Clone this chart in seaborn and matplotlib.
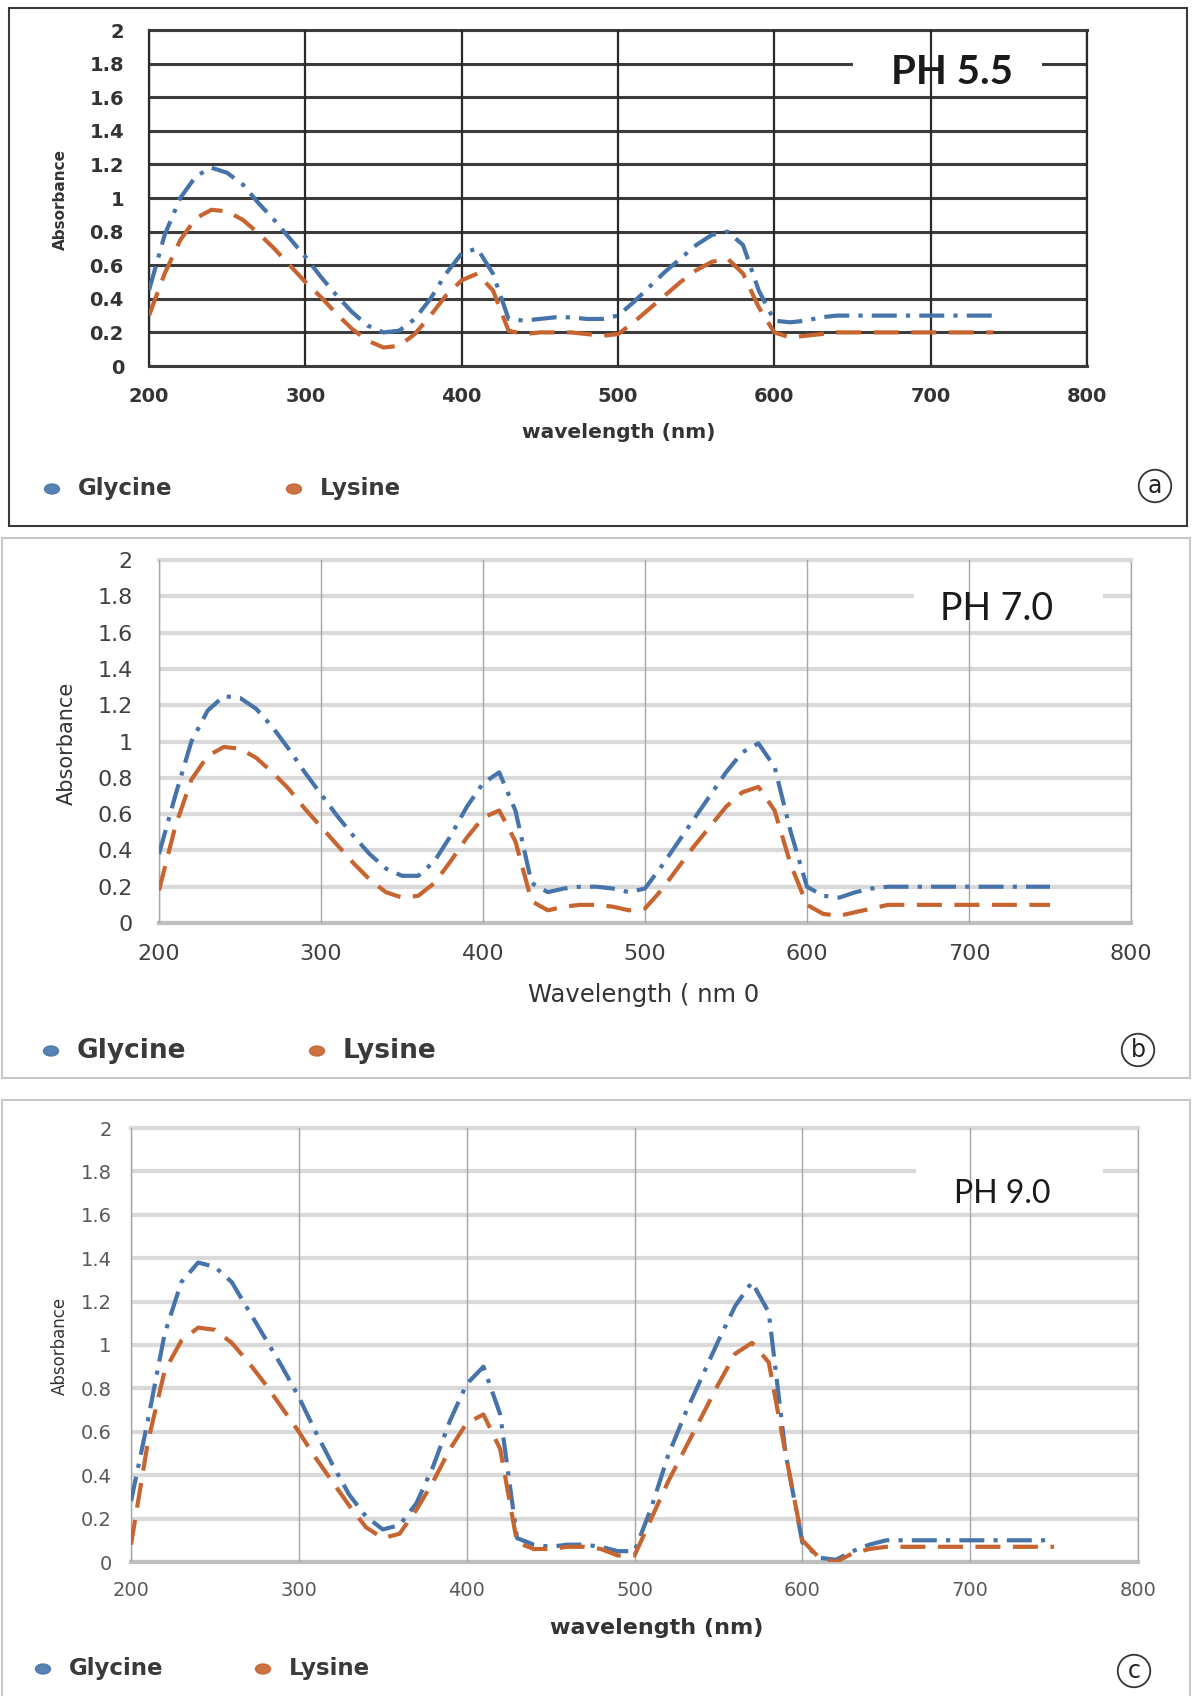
import numpy as np
import pandas as pd
import matplotlib
matplotlib.use('Agg')
import matplotlib.pyplot as plt
from matplotlib.patches import Rectangle, Ellipse
import seaborn as sns

sns.set_style('white')
plt.rcParams['font.family'] = ['DejaVu Sans']

# ---- data (absorbance vs wavelength, nm) ----
wl_a = list(range(200, 741, 10))
glycine_a = [0.45, 0.78, 1.00, 1.13, 1.18, 1.15, 1.08, 0.97, 0.87, 0.76,
             0.65, 0.53, 0.42, 0.32, 0.24, 0.20, 0.21, 0.28, 0.40, 0.55,
             0.67, 0.70, 0.55, 0.28, 0.27, 0.28, 0.29, 0.29, 0.28, 0.28,
             0.30, 0.38, 0.47, 0.56, 0.64, 0.72, 0.78, 0.80, 0.72, 0.45,
             0.27, 0.26, 0.27, 0.29, 0.30, 0.30, 0.30, 0.30, 0.30, 0.30,
             0.30, 0.30, 0.30, 0.30, 0.30]
lysine_a = [0.30, 0.55, 0.75, 0.88, 0.93, 0.92, 0.87, 0.79, 0.70, 0.60,
            0.50, 0.41, 0.31, 0.22, 0.15, 0.11, 0.12, 0.19, 0.30, 0.42,
            0.51, 0.55, 0.45, 0.21, 0.19, 0.20, 0.20, 0.20, 0.19, 0.18,
            0.19, 0.26, 0.34, 0.42, 0.50, 0.57, 0.62, 0.64, 0.55, 0.35,
            0.20, 0.17, 0.18, 0.19, 0.20, 0.20, 0.20, 0.20, 0.20, 0.20,
            0.20, 0.20, 0.20, 0.20, 0.20]

wl_b = list(range(200, 751, 10))
glycine_b = [0.38, 0.70, 1.00, 1.17, 1.25, 1.24, 1.18, 1.08, 0.96, 0.83,
             0.71, 0.59, 0.48, 0.38, 0.30, 0.26, 0.26, 0.34, 0.48, 0.64,
             0.77, 0.83, 0.62, 0.22, 0.17, 0.19, 0.20, 0.20, 0.19, 0.17,
             0.19, 0.31, 0.44, 0.57, 0.70, 0.83, 0.94, 0.99, 0.86, 0.50,
             0.20, 0.15, 0.14, 0.17, 0.19, 0.20, 0.20, 0.20, 0.20, 0.20,
             0.20, 0.20, 0.20, 0.20, 0.20, 0.20]
lysine_b = [0.18, 0.53, 0.79, 0.92, 0.97, 0.96, 0.91, 0.83, 0.74, 0.63,
            0.53, 0.43, 0.33, 0.24, 0.17, 0.14, 0.15, 0.22, 0.34, 0.47,
            0.58, 0.62, 0.45, 0.12, 0.07, 0.09, 0.10, 0.10, 0.09, 0.07,
            0.08, 0.18, 0.30, 0.42, 0.53, 0.64, 0.72, 0.75, 0.62, 0.32,
            0.10, 0.05, 0.04, 0.06, 0.08, 0.10, 0.10, 0.10, 0.10, 0.10,
            0.10, 0.10, 0.10, 0.10, 0.10, 0.10]

wl_c = list(range(200, 751, 10))
glycine_c = [0.28, 0.65, 1.05, 1.29, 1.38, 1.36, 1.29, 1.16, 1.03, 0.90,
             0.76, 0.60, 0.45, 0.31, 0.21, 0.15, 0.17, 0.27, 0.44, 0.65,
             0.82, 0.90, 0.68, 0.11, 0.08, 0.07, 0.08, 0.08, 0.07, 0.05,
             0.05, 0.25, 0.49, 0.68, 0.85, 1.02, 1.18, 1.29, 1.15, 0.50,
             0.09, 0.02, 0.01, 0.05, 0.08, 0.10, 0.10, 0.10, 0.10, 0.10,
             0.10, 0.10, 0.10, 0.10, 0.10, 0.10]
lysine_c = [0.08, 0.55, 0.88, 1.02, 1.08, 1.07, 1.01, 0.92, 0.82, 0.71,
            0.60, 0.48, 0.37, 0.26, 0.16, 0.11, 0.13, 0.24, 0.37, 0.52,
            0.64, 0.68, 0.52, 0.09, 0.06, 0.06, 0.07, 0.07, 0.06, 0.03,
            0.03, 0.20, 0.37, 0.52, 0.67, 0.82, 0.96, 1.01, 0.92, 0.50,
            0.10, 0.02, 0.00, 0.04, 0.06, 0.07, 0.07, 0.07, 0.07, 0.07,
            0.07, 0.07, 0.07, 0.07, 0.07, 0.07]

x_ticks = [200, 300, 400, 500, 600, 700, 800]
x_tick_labels = ['200', '300', '400', '500', '600', '700', '800']
y_ticks = [0, 0.2, 0.4, 0.6, 0.8, 1.0, 1.2, 1.4, 1.6, 1.8, 2.0]
y_tick_labels = ['0', '0.2', '0.4', '0.6', '0.8', '1', '1.2', '1.4', '1.6', '1.8', '2']
series_names = ['Glycine', 'Lysine']

PALETTE = {'Glycine': '#4674aa', 'Lysine': '#c7642f'}
DASHES = {'Glycine': (6, 2.2, 1, 2.2), 'Lysine': (6, 3)}

W, H = 1192, 1696


def fig_rect(x0, y0, x1, y1):
    return [x0 / W, 1 - y1 / H, (x1 - x0) / W, (y1 - y0) / H]


def fpt(x, y):
    return x / W, 1 - y / H


panels = [
    dict(wl=wl_a, gly=glycine_a, lys=lysine_a,
         axes=(149, 30, 1087, 366), box=(9, 8, 1187, 526), box_color='#3a3a3a',
         hgrid=('#3c3c3c', 2.2), vgrid=('#2a2a2a', 1.6),
         spines={'left': ('#2a2a2a', 1.6), 'right': ('#2a2a2a', 1.6),
                 'top': ('#3c3c3c', 2.2), 'bottom': ('#3c3c3c', 2.2)},
         tick_size=14, tick_weight='bold', tick_color='#333333', xpad=15, ypad=18,
         ylabel=('Absorbance', 60, 200, 11, 'bold'),
         xlabel=('wavelength (nm)', 619, 433, 14.5, 'bold'),
         ph=('PH 5.5', 0.856, 0.875, 29, 'bold', 0.750, 0.952),
         legend_y=489, legend_x=(52, 294), legend_size=16.5,
         letter=('a', 1155, 486)),
    dict(wl=wl_b, gly=glycine_b, lys=lysine_b,
         axes=(159, 560, 1131, 923), box=(2, 538, 1190, 1078), box_color='#c8c8c8',
         hgrid=('#d9d9d9', 3), vgrid=('#a6a6a6', 1),
         spines={'left': ('#a6a6a6', 1), 'right': ('#a6a6a6', 1),
                 'top': ('#d9d9d9', 3), 'bottom': ('#bfbfbf', 3)},
         tick_size=16, tick_weight='normal', tick_color='#404040', xpad=15, ypad=19,
         ylabel=('Absorbance', 67, 743, 15, 'normal'),
         xlabel=('Wavelength ( nm 0', 644, 995, 17.5, 'normal'),
         ph=('PH 7.0', 0.862, 0.865, 27, 'normal', 0.777, 0.971),
         legend_y=1051, legend_x=(51, 317), legend_size=19,
         letter=('b', 1138, 1050)),
    dict(wl=wl_c, gly=glycine_c, lys=lysine_c,
         axes=(131, 1128, 1138, 1562), box=(2, 1100, 1190, 1710), box_color='#c8c8c8',
         hgrid=('#d9d9d9', 3), vgrid=('#a6a6a6', 1),
         spines={'left': ('#a6a6a6', 1), 'right': ('#a6a6a6', 1),
                 'top': ('#d9d9d9', 3), 'bottom': ('#bfbfbf', 3)},
         tick_size=14, tick_weight='normal', tick_color='#595959', xpad=14, ypad=14,
         ylabel=('Absorbance', 60, 1346, 12, 'normal'),
         xlabel=('wavelength (nm)', 657, 1628, 16, 'bold'),
         ph=('PH 9.0', 0.865, 0.848, 23, 'normal', 0.780, 0.965),
         legend_y=1669, legend_x=(43, 263), legend_size=16.5,
         letter=('c', 1134, 1671)),
]

fig = plt.figure(figsize=(W / 100, H / 100), dpi=100)

for p in panels:
    # outer frame of the panel
    bx0, by0, bx1, by1 = p['box']
    fig.add_artist(Rectangle((bx0 / W, 1 - by1 / H), (bx1 - bx0) / W, (by1 - by0) / H,
                             transform=fig.transFigure, fill=False,
                             ec=p['box_color'], lw=1.5))

    ax = fig.add_axes(fig_rect(*p['axes']))
    n = len(p['wl'])
    df = pd.DataFrame({'wavelength': list(p['wl']) * 2,
                       'absorbance': p['gly'] + p['lys'],
                       'acid': [series_names[0]] * n + [series_names[1]] * n})
    sns.lineplot(data=df, x='wavelength', y='absorbance', hue='acid', style='acid',
                 palette=PALETTE, dashes=DASHES, linewidth=3, legend=False,
                 errorbar=None, ax=ax)

    ax.set_xlim(200, 800)
    ax.set_ylim(0, 2)
    ax.set_xticks(x_ticks)
    ax.set_xticklabels(x_tick_labels, fontsize=p['tick_size'],
                       fontweight=p['tick_weight'], color=p['tick_color'])
    ax.set_yticks(y_ticks)
    ax.set_yticklabels(y_tick_labels, fontsize=p['tick_size'],
                       fontweight=p['tick_weight'], color=p['tick_color'])
    ax.tick_params(axis='x', length=0, pad=p['xpad'])
    ax.tick_params(axis='y', length=0, pad=p['ypad'])
    ax.set_xlabel('')
    ax.set_ylabel('')

    ax.grid(axis='y', color=p['hgrid'][0], lw=p['hgrid'][1])
    ax.grid(axis='x', color=p['vgrid'][0], lw=p['vgrid'][1])
    ax.set_axisbelow(True)
    ax.xaxis.set_zorder(1.5)   # vertical lines stay visible through the title box
    for side, (c, lw) in p['spines'].items():
        ax.spines[side].set_color(c)
        ax.spines[side].set_linewidth(lw)
        ax.spines[side].set_zorder(1.5)

    # pH title with its white box breaking the 1.8 gridline
    txt, tx, ty, tsize, tweight, gx0, gx1 = p['ph']
    ax.add_patch(Rectangle((gx0, 0.875), gx1 - gx0, 0.05, transform=ax.transAxes,
                           fc='white', ec='none', zorder=1))
    ax.text(tx, ty, txt, transform=ax.transAxes, ha='center', va='center',
            fontsize=tsize, fontweight=tweight, color='#1a1a1a',
            family=['Lato', 'DejaVu Sans'], zorder=3)

    # axis titles
    label, lx, ly, lsize, lweight = p['ylabel']
    fig.text(*fpt(lx, ly), label, rotation=90, ha='center', va='center',
             fontsize=lsize, fontweight=lweight, color='#333333')
    label, lx, ly, lsize, lweight = p['xlabel']
    fig.text(*fpt(lx, ly), label, ha='center', va='center',
             fontsize=lsize, fontweight=lweight, color='#333333')

    # legend below the plot
    for name, mx in zip(series_names, p['legend_x']):
        fig.add_artist(Ellipse(fpt(mx, p['legend_y']), width=15 / W, height=10 / H,
                               transform=fig.transFigure, fc=PALETTE[name],
                               ec=PALETTE[name], lw=1, alpha=0.9))
        fig.text(*fpt(mx + 26, p['legend_y']), name, ha='left', va='center',
                 fontsize=p['legend_size'], fontweight='bold', color='#3a3a3a')

    # circled panel letter
    letter, cx, cy = p['letter']
    fig.text(*fpt(cx, cy), letter, ha='center', va='center', fontsize=17,
             color='#222222',
             bbox=dict(boxstyle='circle,pad=0.18', fc='white', ec='#333333', lw=1.3))

fig.savefig('out.png', dpi=100)
